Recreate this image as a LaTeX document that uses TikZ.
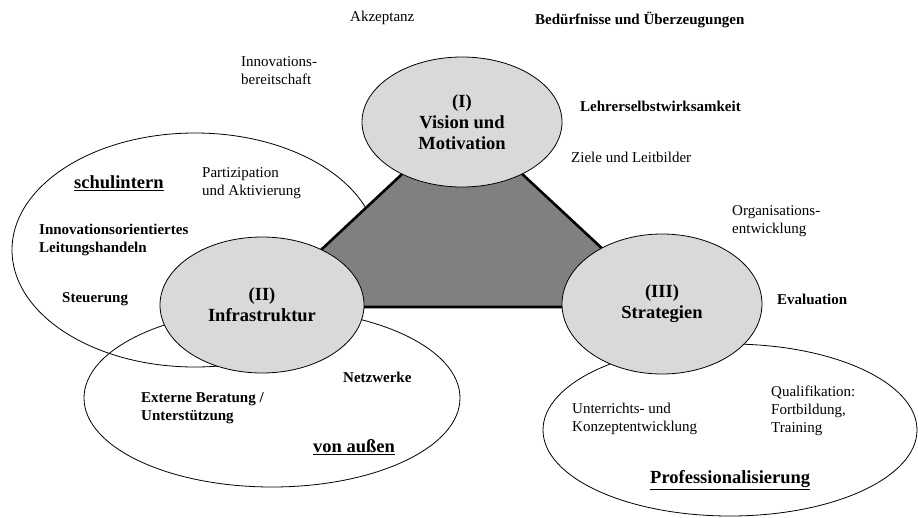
\documentclass[tikz,border=0pt]{standalone}
\usepackage{fontspec}
\setmainfont{Liberation Serif}
\usetikzlibrary{shapes.geometric}
\definecolor{ellgray}{HTML}{D9D9D9}
\definecolor{trigray}{HTML}{808080}
\tikzset{
  txt/.style={anchor=west, inner sep=0pt, align=left, font=\fontsize{15}{18}\selectfont},
  btxt/.style={txt, font=\fontsize{15}{18}\selectfont\bfseries},
  head/.style={txt, font=\fontsize{18.5}{21}\selectfont\bfseries},
  bigell/.style={ellipse, draw=black, line width=0.8pt, inner sep=0pt},
  pillar/.style={ellipse, draw=black, line width=0.8pt, fill=ellgray, inner sep=0pt, align=center, font=\fontsize{18.5}{21}\selectfont\bfseries},
}
\begin{document}
\begin{tikzpicture}[x=1pt, y=-1pt]
\useasboundingbox (0,0) rectangle (918,517);
% outer ellipses
\node[bigell, minimum width=366pt, minimum height=234pt] (schulell) at (195,250) {};
\node[bigell, minimum width=376pt, minimum height=178pt] (aussenell) at (272,398) {};
\node[bigell, minimum width=374pt, minimum height=172pt] (profell) at (730,430) {};
% triangle
\coordinate (tA) at (462,118);
\coordinate (tB) at (260,307);
\coordinate (tC) at (665,307);
\draw[line width=2.6pt, fill=trigray] (tA) -- (tB) -- (tC) -- cycle;
% pillars
\node[pillar, minimum width=200pt, minimum height=130pt] (vision) at (462,122) {(I)\\Vision und\\Motivation};
\node[pillar, minimum width=204pt, minimum height=136pt] (infra) at (262,305) {(II)\\Infrastruktur};
\node[pillar, minimum width=200pt, minimum height=140pt] (strat) at (662,304) {(III)\\Strategien};
% texts
\node[txt] (akz) at (350,18) {Akzeptanz};
\node[btxt] (bed) at (535,20) {Bedürfnisse und Überzeugungen};
\node[txt] (innov) at (241,71) {Innovations-\\bereitschaft};
\node[btxt] (lehrer) at (580,106) {Lehrerselbstwirksamkeit};
\node[txt] (ziele) at (571,157) {Ziele und Leitbilder};
\node[txt] (partiz) at (202,183) {Partizipation\\und Aktivierung};
\node[head] (schul) at (74,183) {\underline{schulintern}};
\node[btxt] (innorient) at (39,240) {Innovationsorientiertes\\Leitungshandeln};
\node[btxt] (steuer) at (62,299) {Steuerung};
\node[btxt] (netz) at (343,377) {Netzwerke};
\node[btxt] (extern) at (141,408) {Externe Beratung /\\Unterstützung};
\node[head] (aussen) at (313,447) {\underline{von außen}};
\node[txt] (organ) at (732,221) {Organisations-\\entwicklung};
\node[btxt] (eval) at (777,299) {Evaluation};
\node[txt] (unterr) at (572,419) {Unterrichts- und\\Konzeptentwicklung};
\node[txt] (quali) at (771,411) {Qualifikation:\\Fortbildung,\\Training};
\node[head] (prof) at (650,480) {\underline{Professionalisierung}};
\end{tikzpicture}
\end{document}
